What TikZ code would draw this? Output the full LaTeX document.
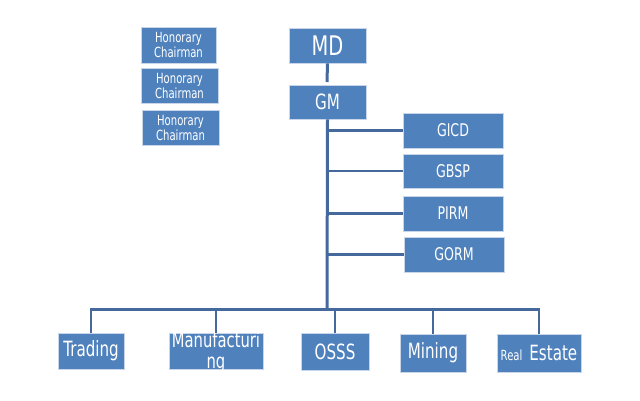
\documentclass[tikz,border=0pt]{standalone}
\usepackage{fontspec}
\setmainfont{DejaVu Sans}[FakeStretch=0.72]
\definecolor{boxfill}{HTML}{4F81BD}
\definecolor{boxedge}{HTML}{C9D6EA}
\definecolor{linec}{HTML}{45699C}
\begin{document}
\begin{tikzpicture}[x=1pt,y=-1pt,
  box/.style={fill=boxfill,draw=boxedge,line width=0.8pt,text=white,inner sep=0pt,align=center},
  hon/.style={box,font=\fontsize{14}{15}\selectfont},
  side/.style={box,minimum width=100,font=\fontsize{17.5}{18}\selectfont},
  bottom/.style={box,font=\fontsize{21}{21}\selectfont},
  conn/.style={draw=linec,line width=2.2pt},
  trunk/.style={draw=linec,line width=3pt}]
\useasboundingbox (0,0) rectangle (640,400);
% honorary
\node[hon,minimum width=75,minimum height=36] (h1) at (178.5,45) {Honorary\\Chairman};
\node[hon,minimum width=77,minimum height=35] (h2) at (179.5,85.5) {Honorary\\Chairman};
\node[hon,minimum width=77,minimum height=35] (h3) at (180.5,127.5) {Honorary\\Chairman};
% top
\node[box,minimum width=77,minimum height=35,font=\fontsize{27}{27}\selectfont] (md) at (327.5,45.5) {MD};
\node[box,minimum width=77,minimum height=34,font=\fontsize{21}{21}\selectfont] (gm) at (327.5,102) {GM};
% right column
\node[side,minimum height=35] (gicd) at (453,130.5) {GICD};
\node[side,minimum height=34] (gbsp) at (453,171) {GBSP};
\node[side,minimum height=35] (pirm) at (453,213.5) {PIRM};
\node[side,minimum height=35] (gorm) at (454,254.5) {GORM};
% bottom row
\node[bottom,minimum width=66,minimum height=36] (trading) at (91,351) {Trading};
\node[box,minimum width=94,minimum height=36] (manu) at (216,351) {};
\begin{scope}
\clip (manu.south west) rectangle (manu.north east);
\node[text=white,align=center,font=\fontsize{20.5}{21}\selectfont,inner sep=0pt] (manutext) at (216,352) {Manufacturi\\ng};
\end{scope}
\node[bottom,minimum width=68,minimum height=37] (osss) at (335,351.5) {OSSS};
\node[bottom,minimum width=66,minimum height=38] (mining) at (433,353) {Mining};
\node[bottom,minimum width=84,minimum height=38] (real) at (539,353) {{\fontsize{14}{14}\selectfont Real}\hspace{7pt}Estate};
% connectors
\coordinate (mdgm) at (327,82);
\draw[trunk] (md.south) -- (mdgm);
\coordinate (jn) at (327,309.5);
\draw[trunk] (gm.south) -- (jn);
\draw[conn] (gicd.west -| jn) -- (gicd.west);
\draw[conn] (gbsp.west -| jn) -- (gbsp.west);
\draw[conn] (pirm.west -| jn) -- (pirm.west);
\draw[conn] (gorm.west -| jn) -- (gorm.west);
\draw[conn] (trading.north) |- (jn) -| (real.north);
\draw[conn] (manu.north) -- (manu.north |- jn);
\draw[conn] (osss.north) -- (osss.north |- jn);
\draw[conn] (mining.north) -- (mining.north |- jn);
\end{tikzpicture}
\end{document}
